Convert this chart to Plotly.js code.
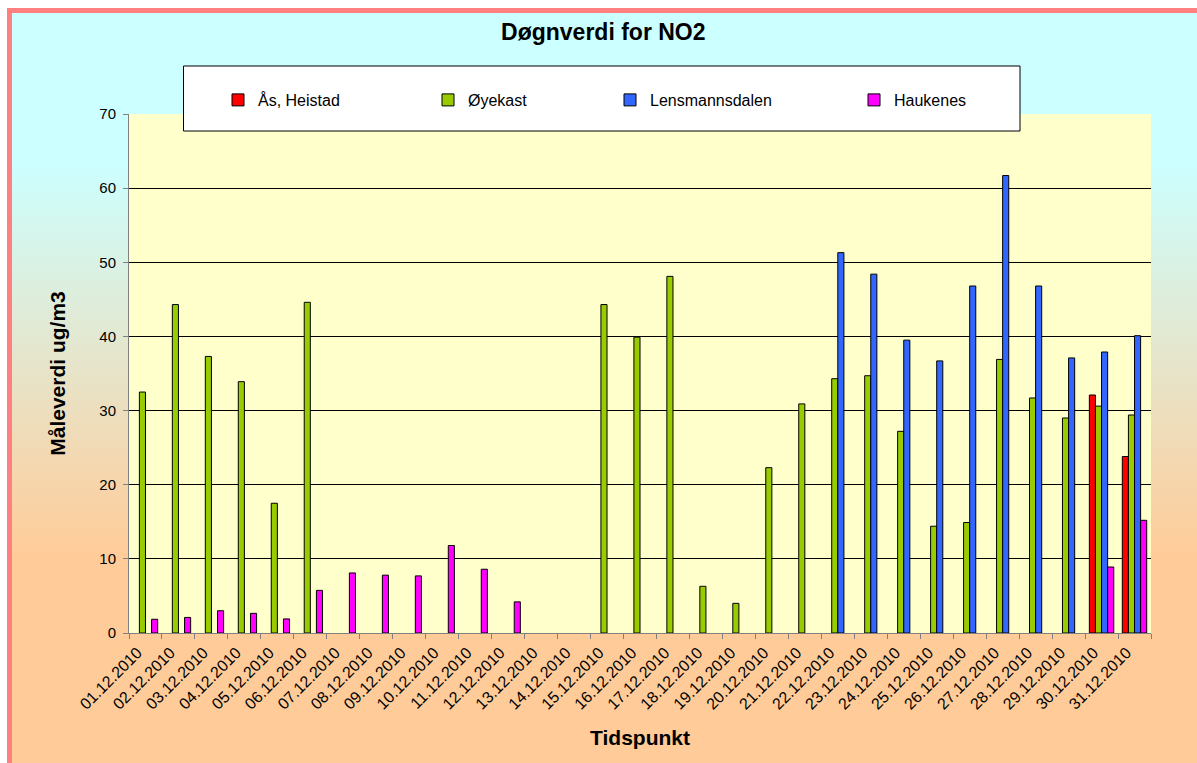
<!DOCTYPE html>
<html><head><meta charset="utf-8">
<script src="https://cdn.plot.ly/plotly-3.0.1.min.js"></script>
<style>
html,body{margin:0;padding:0;background:#fff;overflow:hidden;width:1197px;height:763px;}
#bg{position:absolute;left:12px;top:13px;width:1185px;height:750px;background:linear-gradient(to bottom,#CCFFFF 0%,#CCFFFF 20%,#FFCC99 72%,#FFCC99 100%);}
#bt{position:absolute;left:7px;top:8px;width:1190px;height:5px;background:#FF8080;}
#bl{position:absolute;left:7px;top:8px;width:5px;height:755px;background:#FF8080;}
#chart{position:absolute;left:0;top:0;width:1197px;height:763px;}
</style></head>
<body><div id="bg"></div><div id="bt"></div><div id="bl"></div><div id="chart"></div>
<script>
const dates = ["01.12.2010","02.12.2010","03.12.2010","04.12.2010","05.12.2010","06.12.2010","07.12.2010","08.12.2010","09.12.2010","10.12.2010","11.12.2010","12.12.2010","13.12.2010","14.12.2010","15.12.2010","16.12.2010","17.12.2010","18.12.2010","19.12.2010","20.12.2010","21.12.2010","22.12.2010","23.12.2010","24.12.2010","25.12.2010","26.12.2010","27.12.2010","28.12.2010","29.12.2010","30.12.2010","31.12.2010"];
const asHeistad = [null,null,null,null,null,null,null,null,null,null,null,null,null,null,null,null,null,null,null,null,null,null,null,null,null,null,null,null,null,32.1,23.8];
const oyekast = [32.5,44.3,37.3,33.9,17.5,44.6,null,null,null,null,null,null,null,null,44.3,39.9,48.1,6.3,4.0,22.3,30.9,34.3,34.7,27.2,14.4,14.9,36.9,31.7,29.0,30.6,29.4];
const lensmannsdalen = [null,null,null,null,null,null,null,null,null,null,null,null,null,null,null,null,null,null,null,null,null,51.3,48.4,39.5,36.7,46.8,61.7,46.8,37.1,37.9,40.1];
const haukenes = [1.85,2.1,3.0,2.65,1.9,5.75,8.1,7.8,7.7,11.8,8.6,4.2,null,null,null,null,null,null,null,null,null,null,null,null,null,null,null,null,null,8.9,15.2];
const seriesNames = ["Ås, Heistad","Øyekast","Lensmannsdalen","Haukenes"];
const seriesColors = ["#FF0000","#99CC00","#3366FF","#FF00FF"];
const seriesValues = [asHeistad, oyekast, lensmannsdalen, haukenes];
const legendIds = ["legend","legend2","legend3","legend4"];

const FONT = "Liberation Sans, Arial, sans-serif";
const traces = seriesValues.map((vals, i) => ({
  type: "bar",
  name: seriesNames[i],
  x: dates,
  y: vals,
  marker: {color: seriesColors[i], line: {color: "#000", width: 1}},
  legend: legendIds[i],
  hoverinfo: "skip"
}));

// plot area: left 129, right 1151, top 114, bottom 633
const W = 1197, H = 763, L = 129, R = 1151, T = 114, B = 633;
const px = x => (x - L) / (R - L);
const py = y => (B - y) / (B - T);

const legendX = [218, 428, 610, 854];
const legendBase = {
  y: py(100), yanchor: "middle", xanchor: "left",
  bgcolor: "rgba(0,0,0,0)", borderwidth: 0,
  font: {family: FONT, size: 16, color: "#000"}
};
const layout = {
  width: W, height: H,
  margin: {l: L, r: W - R, t: T, b: H - B, pad: 0},
  paper_bgcolor: "rgba(0,0,0,0)",
  plot_bgcolor: "#FFFFCC",
  barmode: "group",
  bargap: 0.26,
  bargroupgap: 0,
  title: {text: "Døgnverdi for NO2", font: {family: FONT, size: 23, weight: "bold", color: "#000"},
          xref: "container", x: 0.504, xanchor: "center", yref: "container", y: 1 - 32 / H, yanchor: "middle"},
  xaxis: {
    type: "category",
    tickson: "boundaries",
    ticks: "outside", ticklen: 5, tickcolor: "#808080",
    showline: true, linecolor: "#808080", linewidth: 1,
    showgrid: false,
    tickangle: -45,
    ticklabelshift: -8,
    ticklabelstandoff: 3,
    tickfont: {family: FONT, size: 16, color: "#000"},
    title: {text: "Tidspunkt", font: {family: FONT, size: 21, weight: "bold", color: "#000"}, standoff: 18},
    automargin: false
  },
  yaxis: {
    range: [0, 70], dtick: 10, tick0: 0,
    ticks: "outside", ticklen: 5, tickcolor: "#808080",
    showline: true, linecolor: "#808080", linewidth: 1,
    showgrid: true, gridcolor: "#000", gridwidth: 1,
    zeroline: false,
    ticklabelstandoff: 4,
    tickfont: {family: FONT, size: 15, color: "#000"},
    title: {text: "Måleverdi ug/m3", font: {family: FONT, size: 21, weight: "bold", color: "#000"}, standoff: 27},
    automargin: false
  },
  shapes: [{
    type: "rect", xref: "paper", yref: "paper", layer: "above",
    x0: px(183.5), x1: px(1020), y0: py(131), y1: py(66),
    fillcolor: "#FFFFFF", line: {color: "#000", width: 1}
  }],
  showlegend: true
};
legendIds.forEach((id, i) => {
  layout[id] = Object.assign({}, legendBase, {x: px(legendX[i])});
});

Plotly.newPlot("chart", traces, layout, {staticPlot: true, displayModeBar: false});
</script>
</body></html>
